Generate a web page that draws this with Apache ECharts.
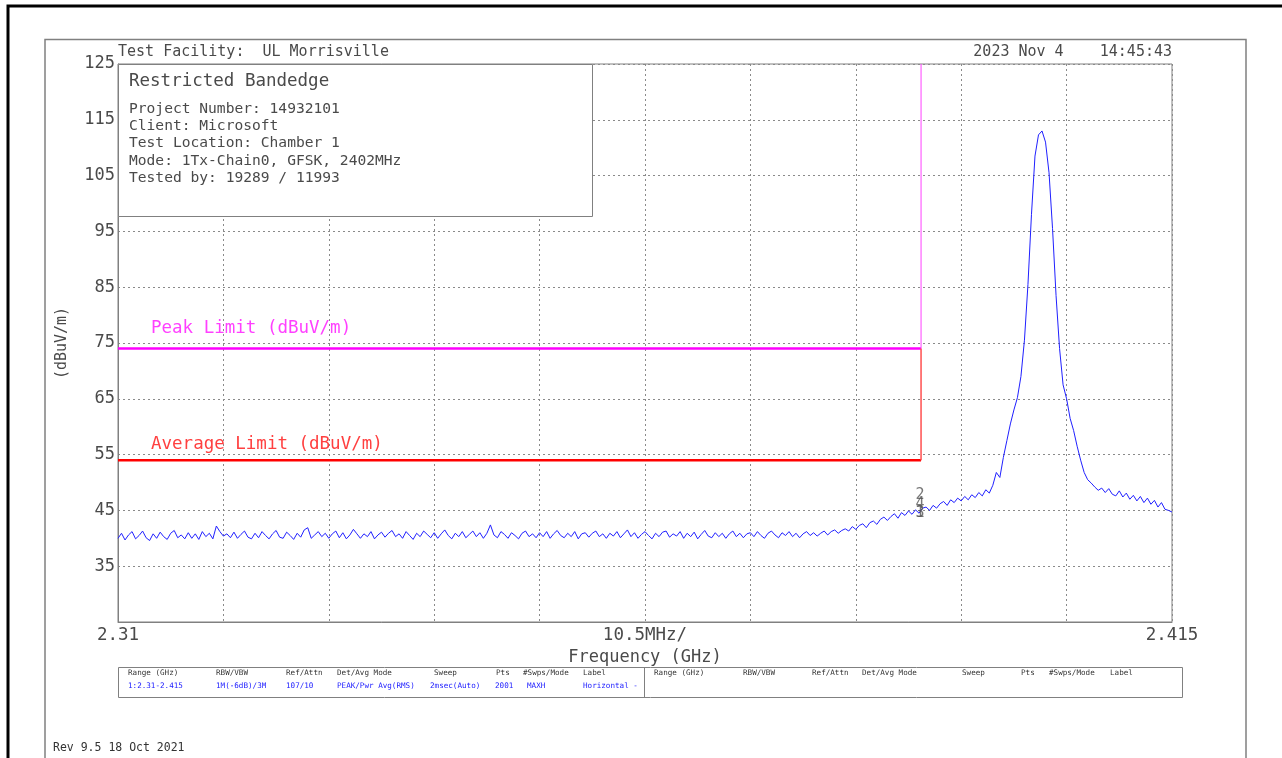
<!DOCTYPE html>
<html><head><meta charset="utf-8">
<script src="https://cdn.jsdelivr.net/npm/echarts@6/dist/echarts.min.js"></script>
<style>html,body{margin:0;padding:0;background:#fff}#c{width:1282px;height:758px}</style>
</head><body><div id="c"></div>
<script>
// ---- data ----
const startGHz = 2.31, stopGHz = 2.415, stepGHz = 0.00035, divGHz = 0.0105;
const traceDbuv = [
40.0,40.9,39.7,40.6,41.2,39.9,40.5,41.3,40.1,39.6,40.8,40.0,41.1,40.3,39.8,40.9,41.4,40.1,40.6,39.9,
41.0,40.0,40.8,39.8,41.2,40.3,40.9,39.9,42.2,41.2,40.4,40.8,40.1,41.1,40.0,40.7,41.3,40.2,39.9,40.9,
40.1,41.2,40.5,39.9,40.8,41.4,40.2,40.0,41.1,40.5,39.8,40.9,40.2,41.5,41.9,40.0,40.6,41.2,40.3,40.9,
40.0,40.8,41.3,40.1,41.0,39.9,40.6,41.6,40.8,40.0,40.8,40.3,41.2,39.9,40.6,41.1,40.2,40.9,41.4,40.3,
40.8,40.0,41.2,40.5,39.8,40.9,40.3,41.3,40.7,40.1,41.0,40.0,40.8,41.5,40.5,39.9,40.9,40.3,41.2,40.1,
40.7,41.3,40.3,41.0,40.0,40.9,42.4,40.6,40.1,41.2,40.7,40.0,41.0,40.5,39.9,40.9,41.3,40.3,40.8,40.1,
41.0,40.3,41.2,40.0,40.8,41.4,40.5,40.1,40.9,40.3,41.2,39.9,40.8,41.0,40.2,40.9,41.3,40.3,40.8,40.0,
40.9,40.4,41.2,40.1,40.8,41.5,40.3,41.0,40.0,40.7,41.2,40.5,39.9,40.9,40.3,41.1,41.3,40.2,40.8,40.4,
41.2,40.0,40.9,40.3,41.1,39.9,40.7,41.4,40.4,40.1,41.0,40.3,40.9,40.0,40.8,41.3,40.3,40.9,40.1,40.8,
41.0,40.3,41.2,40.5,40.0,40.9,41.3,40.6,40.1,41.0,40.5,41.2,40.3,40.9,40.1,40.8,41.2,40.5,41.0,40.4,
40.9,41.3,40.6,41.2,41.5,40.9,41.4,41.7,41.3,42.1,41.6,42.3,42.6,41.9,42.8,43.1,42.5,43.4,43.8,43.2,
43.9,44.4,43.6,44.6,44.1,44.9,44.3,45.1,44.5,45.4,45.6,45.0,45.9,45.4,46.2,46.6,45.9,46.9,46.4,47.2,
46.7,47.5,46.9,47.8,47.3,48.2,47.6,48.7,48.1,49.5,51.8,50.9,54.5,57.5,60.5,63.0,65.2,69.0,75.5,85.5,
98.0,108.5,112.3,113.0,111.0,105.5,95.5,83.5,74.0,67.5,65.0,61.5,59.3,56.5,54.0,51.8,50.5,49.9,49.2,48.6,
49.0,48.2,48.9,47.9,47.6,48.5,47.4,48.1,47.0,47.7,46.7,47.5,46.4,47.2,46.1,46.8,45.6,46.4,45.2,45.0,
44.7
];
const limitEdgeGHz = 2.39;
const peakLimit = 74, avgLimit = 54;
const yMin = 25, yMax = 125, yStep = 10;
const xTickStart = '2.31', xTickMid = '10.5MHz/', xTickStop = '2.415';
const markerNames = ['2', '4', '3', '1'];
const markerGHz = [2.3899, 2.3899, 2.3899, 2.3899];
const markerDbuv = [47.7, 46.2, 44.6, 44.6];
const infoTitle = 'Restricted Bandedge';
const infoLines = ['Project Number: 14932101', 'Client: Microsoft', 'Test Location: Chamber 1',
  'Mode: 1Tx-Chain0, GFSK, 2402MHz', 'Tested by: 19289 / 11993'];
const headerCols = ['Range (GHz)', 'RBW/VBW', 'Ref/Attn', 'Det/Avg Mode', 'Sweep', 'Pts', '#Swps/Mode', 'Label'];
const valueCols = ['1:2.31-2.415', '1M(-6dB)/3M', '107/10', 'PEAK/Pwr Avg(RMS)', '2msec(Auto)', '2001', 'MAXH', 'Horizontal -'];
const facilityText = 'Test Facility:  UL Morrisville';
const dateText = '2023 Nov 4    14:45:43';
const revText = 'Rev 9.5 18 Oct 2021';

// ---- chart ----
const MONO = '"DejaVu Sans Mono","Liberation Mono",monospace';
const TXT = '#4a4a4a';
const tracePts = traceDbuv.map((v, i) => [startGHz + i * stepGHz, v]);

const g = [];
g.push({type:'polyline', z:1, shape:{points:[[8,760],[8,6],[1284,6]]}, style:{stroke:'#000', lineWidth:3, fill:null}});
g.push({type:'polyline', z:1, shape:{points:[[45,760],[45,39.5],[1246,39.5],[1246,760]]}, style:{stroke:'#808080', lineWidth:1.5, fill:null}});
g.push({type:'text', z:50, x:118, y:52, style:{text:facilityText, font:'15px '+MONO, fill:TXT, textVerticalAlign:'middle'}});
g.push({type:'text', z:50, x:1172, y:52, style:{text:dateText, font:'15px '+MONO, fill:TXT, textAlign:'right', textVerticalAlign:'middle'}});
// info box
g.push({type:'rect', z:50, shape:{x:118.5, y:64.5, width:474, height:152}, style:{fill:'#fff', stroke:'#808080', lineWidth:1}});
g.push({type:'text', z:51, x:129, y:81, style:{text:infoTitle, font:'17.5px '+MONO, fill:TXT, textVerticalAlign:'middle'}});
infoLines.forEach((t, k) => g.push({type:'text', z:51, x:129, y:109 + k * 17.3, style:{text:t, font:'14.6px '+MONO, fill:TXT, textVerticalAlign:'middle'}}));
// limit labels
g.push({type:'text', z:51, x:151, y:328, style:{text:'Peak Limit (dBuV/m)', font:'17.5px '+MONO, fill:'#ff40ff', textVerticalAlign:'middle'}});
g.push({type:'text', z:51, x:151, y:444, style:{text:'Average Limit (dBuV/m)', font:'17.5px '+MONO, fill:'#ff4040', textVerticalAlign:'middle'}});
// table
g.push({type:'rect', z:50, shape:{x:118.5, y:667.5, width:1064, height:30}, style:{fill:'#fff', stroke:'#808080', lineWidth:1}});
g.push({type:'line', z:50, shape:{x1:644.5, y1:667.5, x2:644.5, y2:697.5}, style:{stroke:'#808080', lineWidth:1}});
const colL = [128, 216, 286, 337, 434, 496, 523, 583];
const colV = [128, 216, 286, 337, 430, 495, 527, 583];
const colR = [654, 743, 812, 862, 962, 1021, 1049, 1110];
headerCols.forEach((t, k) => {
  g.push({type:'text', z:51, x:colL[k], y:673, style:{text:t, font:'7.6px '+MONO, fill:'#333', textVerticalAlign:'middle'}});
  g.push({type:'text', z:51, x:colR[k], y:673, style:{text:t, font:'7.6px '+MONO, fill:'#333', textVerticalAlign:'middle'}});
});
valueCols.forEach((t, k) => g.push({type:'text', z:51, x:colV[k], y:686, style:{text:t, font:'7.6px '+MONO, fill:'#1a1aff', textVerticalAlign:'middle'}}));
g.push({type:'text', z:51, x:53, y:748, style:{text:revText, font:'11.5px '+MONO, fill:'#333', textVerticalAlign:'middle'}});

const near = (a, b) => Math.abs(a - b) < 1e-6;
const option = {
  animation: false,
  backgroundColor: '#fff',
  grid: {left:118, top:64, right:110, bottom:136, show:true, borderColor:'#808080', borderWidth:1, backgroundColor:'transparent'},
  xAxis: {
    type:'value', min:startGHz, max:stopGHz, interval:divGHz,
    name:'Frequency (GHz)', nameLocation:'middle', nameGap:25,
    nameTextStyle:{fontFamily:MONO, fontSize:17, color:TXT},
    axisLine:{show:true, lineStyle:{color:'#808080', width:1}},
    axisTick:{show:false},
    axisLabel:{margin:4, fontFamily:MONO, fontSize:17.5, color:TXT, showMinLabel:true, showMaxLabel:true,
      formatter: v => near(v, startGHz) ? xTickStart : near(v, stopGHz) ? xTickStop : near(v, (startGHz+stopGHz)/2) ? xTickMid : ''},
    splitLine:{show:true, lineStyle:{color:'#8a8a8a', type:[2,3], width:1}}
  },
  yAxis: {
    type:'value', min:yMin, max:yMax, interval:yStep,
    name:'(dBuV/m)', nameLocation:'middle', nameGap:48,
    nameTextStyle:{fontFamily:MONO, fontSize:15, color:TXT},
    axisLine:{show:true, lineStyle:{color:'#808080', width:1}},
    axisTick:{show:false},
    axisLabel:{margin:3, fontFamily:MONO, fontSize:17, color:TXT, formatter: v => v === yMin ? '' : String(v)},
    splitLine:{show:true, lineStyle:{color:'#8a8a8a', type:[2,3], width:1}}
  },
  series: [
    {type:'line', name:'trace', data:tracePts, showSymbol:false, symbol:'none', z:5,
      lineStyle:{color:'#2020ff', width:1}},
    {type:'line', data:[[startGHz, peakLimit],[limitEdgeGHz, peakLimit]], symbol:'none', z:4, lineStyle:{color:'#ff00ff', width:2.5}},
    {type:'line', data:[[limitEdgeGHz, peakLimit],[limitEdgeGHz, yMax]], symbol:'none', z:4, lineStyle:{color:'#ff40ff', width:1}},
    {type:'line', data:[[startGHz, avgLimit],[limitEdgeGHz, avgLimit]], symbol:'none', z:4, lineStyle:{color:'#ff0000', width:2.5}},
    {type:'line', data:[[limitEdgeGHz, avgLimit],[limitEdgeGHz, peakLimit]], symbol:'none', z:4, lineStyle:{color:'#ff5050', width:1.5}},
    {type:'scatter', z:6, symbolSize:1, itemStyle:{color:'rgba(0,0,0,0)'},
      data: markerNames.map((n, k) => ({name:n, value:[markerGHz[k], markerDbuv[k]]})),
      label:{show:true, position:'inside', formatter: p => p.name, fontFamily:MONO, fontSize:15, color:'#555'}}
  ],
  graphic: g
};
const chart = echarts.init(document.getElementById('c'));
chart.setOption(option);
</script>
</body></html>
